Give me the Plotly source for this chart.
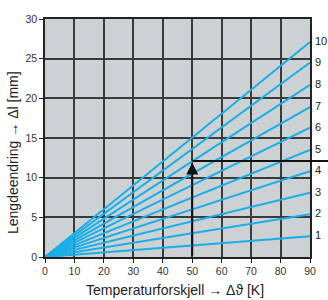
import plotly.graph_objects as go

# data
temp_x = [0, 90]
line_labels = ["1", "2", "3", "4", "5", "6", "7", "8", "9", "10"]
end_values = [2.6, 5.4, 8.1, 10.8, 13.5, 16.3, 18.9, 21.7, 24.5, 27.1]
x_ticks = [0, 10, 20, 30, 40, 50, 60, 70, 80, 90]
y_ticks = [0, 5, 10, 15, 20, 25, 30]
arrow_x = 50
arrow_tip_y = 11.9
read_y = 12.1
x_max = 90
y_max = 30

LINE_COLOR = "#1aaee8"
FONT = "Liberation Sans, Arial, sans-serif"

fig = go.Figure()
for lab, v in zip(line_labels, end_values):
    fig.add_trace(go.Scatter(x=temp_x, y=[0, v], mode="lines",
                             line=dict(color=LINE_COLOR, width=2),
                             showlegend=False, hoverinfo="skip"))
    fig.add_annotation(x=x_max, y=v, text=lab, showarrow=False,
                       xanchor="left", xshift=3, yshift=1,
                       font=dict(size=11, color="#222", family=FONT))

# arrow up at 50 K
fig.add_annotation(x=arrow_x, y=arrow_tip_y, ax=arrow_x, ay=0,
                   xref="x", yref="y", axref="x", ayref="y",
                   showarrow=True, arrowhead=2, arrowsize=1.2,
                   arrowwidth=2, arrowcolor="#111", text="")
# horizontal reading line extending past plot
fig.add_shape(type="line", xref="paper", yref="y",
              x0=arrow_x / x_max, x1=1.07, y0=read_y, y1=read_y,
              line=dict(color="#111", width=2))

fig.add_annotation(xref="paper", yref="paper", x=-0.118, y=0.44,
                   xanchor="center", yanchor="middle",
                   text="Lengdeendring → Δl [mm]", textangle=-90,
                   showarrow=False, font=dict(size=14, color="#222", family=FONT))
fig.add_annotation(xref="paper", yref="paper", x=0.49, y=-0.14,
                   xanchor="center", yanchor="middle",
                   text="Temperaturforskjell → Δϑ [K]", showarrow=False,
                   font=dict(size=14, color="#222", family=FONT))

axis_common = dict(showgrid=True, gridcolor="#3a3a3a", gridwidth=1.5,
                   showline=True, linecolor="#222", linewidth=1.5, mirror=True,
                   ticks="outside", ticklen=4, tickcolor="#222",
                   tickfont=dict(size=10.5, color="#333", family=FONT),
                   zeroline=False, fixedrange=True)

fig.update_xaxes(range=[0, x_max], tickvals=x_ticks, **axis_common)
fig.update_yaxes(range=[0, y_max], tickvals=y_ticks, **axis_common)

fig.update_layout(width=328, height=300,
                  margin=dict(l=45, r=16, t=19, b=43),
                  plot_bgcolor="#ccd1d4", paper_bgcolor="white",
                  font=dict(family=FONT))

fig.write_html("out.html", config={"displayModeBar": False},
               post_script="document.body.style.margin='0';document.body.style.overflow='hidden';")
